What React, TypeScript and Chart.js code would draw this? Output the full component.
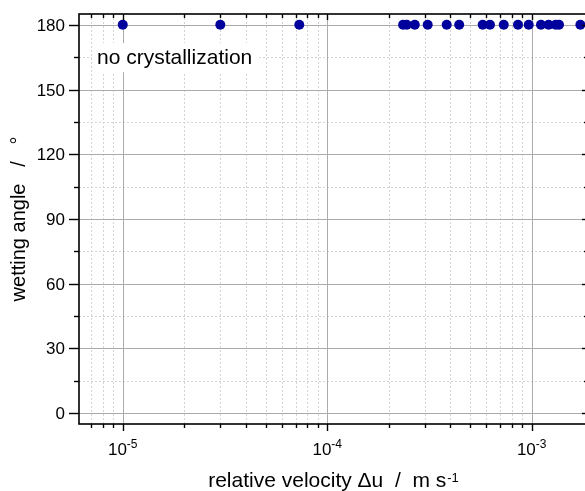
import React, { useEffect, useRef } from "react";
import { Chart, registerables } from "chart.js";

Chart.register(...registerables);

// ---- data ----
const velocity = [
  1.0e-5, 3.0e-5, 7.3e-5, 2.35e-4, 2.45e-4, 2.68e-4, 3.1e-4, 3.84e-4, 4.42e-4,
  5.76e-4, 6.25e-4, 7.3e-4, 8.57e-4, 9.67e-4, 1.11e-3, 1.21e-3, 1.31e-3,
  1.36e-3, 1.73e-3,
];
const wettingAngle = [
  180, 180, 180, 180, 180, 180, 180, 180, 180, 180, 180, 180, 180, 180, 180,
  180, 180, 180, 180,
];
const yMajorTicks = [0, 30, 60, 90, 120, 150, 180];
const yMinorTicks = [15, 45, 75, 105, 135, 165];
const xDecadeExponents = [-6, -5, -4, -3];
const xMinorMultipliers = [2, 3, 4, 5, 6, 7, 8, 9];
const xLabelExponents = [-5, -4, -3];
const xRange = [6.11e-6, 1.864e-3];
const yRange = [-5, 185];
const xTitle = "relative velocity \u0394u  /  m s";
const xTitleSup = "-1";
const yTitle = "wetting angle   /   \u00b0";
const annotation = "no crystallization";

const FONT = "'Liberation Sans', Arial, sans-serif";

const originPlugin = {
  id: "originStyle",
  beforeDatasetsDraw(chart: any) {
    const { ctx, chartArea: a, scales } = chart;
    const x = scales.x;
    const y = scales.y;
    ctx.save();
    ctx.beginPath();
    ctx.rect(a.left, a.top, a.right - a.left, a.bottom - a.top);
    ctx.clip();
    // minor grid (dotted)
    ctx.strokeStyle = "#d4d4d4";
    ctx.lineWidth = 1;
    ctx.setLineDash([2, 2]);
    for (const d of xDecadeExponents) {
      for (const m of xMinorMultipliers) {
        const v = m * Math.pow(10, d);
        if (v <= xRange[0] || v >= xRange[1]) continue;
        const px = Math.round(x.getPixelForValue(v)) + 0.5;
        ctx.beginPath();
        ctx.moveTo(px, a.top);
        ctx.lineTo(px, a.bottom);
        ctx.stroke();
      }
    }
    for (const v of yMinorTicks) {
      const py = Math.round(y.getPixelForValue(v)) + 0.5;
      ctx.beginPath();
      ctx.moveTo(a.left, py);
      ctx.lineTo(a.right, py);
      ctx.stroke();
    }
    // major grid (solid)
    ctx.setLineDash([]);
    ctx.strokeStyle = "#ababab";
    for (const e of xLabelExponents) {
      const px = Math.round(x.getPixelForValue(Math.pow(10, e))) + 0.5;
      ctx.beginPath();
      ctx.moveTo(px, a.top);
      ctx.lineTo(px, a.bottom);
      ctx.stroke();
    }
    for (const v of yMajorTicks) {
      const py = Math.round(y.getPixelForValue(v)) + 0.5;
      ctx.beginPath();
      ctx.moveTo(a.left, py);
      ctx.lineTo(a.right, py);
      ctx.stroke();
    }
    // annotation box + text
    ctx.font = `21px ${FONT}`;
    const tw = ctx.measureText(annotation).width;
    const tx = a.left + 18;
    const ty = y.getPixelForValue(165) + 7;
    ctx.fillStyle = "#ffffff";
    ctx.fillRect(tx - 5, ty - 21, tw + 10, 29);
    ctx.fillStyle = "#000000";
    ctx.textAlign = "left";
    ctx.textBaseline = "alphabetic";
    ctx.fillText(annotation, tx, ty);
    ctx.restore();
  },
  afterDatasetsDraw(chart: any) {
    const { ctx, chartArea: a, scales } = chart;
    const x = scales.x;
    const y = scales.y;
    ctx.save();
    ctx.strokeStyle = "#000000";
    ctx.lineWidth = 1.6;
    ctx.strokeRect(a.left, a.top, a.right - a.left, a.bottom - a.top);
    ctx.lineWidth = 1.4;
    const line = (x1: number, y1: number, x2: number, y2: number) => {
      ctx.beginPath();
      ctx.moveTo(x1, y1);
      ctx.lineTo(x2, y2);
      ctx.stroke();
    };
    // y ticks
    for (const v of yMajorTicks) {
      const py = Math.round(y.getPixelForValue(v)) + 0.5;
      line(a.left - 10, py, a.left, py);
      line(a.right - 5, py, a.right, py);
    }
    for (const v of yMinorTicks) {
      const py = Math.round(y.getPixelForValue(v)) + 0.5;
      line(a.left - 5, py, a.left, py);
      line(a.right - 3, py, a.right, py);
    }
    // x ticks
    for (const e of xLabelExponents) {
      const px = Math.round(x.getPixelForValue(Math.pow(10, e))) + 0.5;
      line(px, a.bottom, px, a.bottom + 7);
      line(px, a.top, px, a.top + 6);
    }
    for (const d of xDecadeExponents) {
      for (const m of xMinorMultipliers) {
        const v = m * Math.pow(10, d);
        if (v <= xRange[0] || v >= xRange[1]) continue;
        const px = Math.round(x.getPixelForValue(v)) + 0.5;
        line(px, a.bottom, px, a.bottom + 4);
        line(px, a.top, px, a.top + 4);
      }
    }
    // y tick labels
    ctx.fillStyle = "#000000";
    ctx.font = `17px ${FONT}`;
    ctx.textAlign = "right";
    ctx.textBaseline = "alphabetic";
    for (const v of yMajorTicks) {
      const py = y.getPixelForValue(v);
      ctx.fillText(String(v), a.left - 14, py + 6);
    }
    // x tick labels 10^n
    for (const e of xLabelExponents) {
      const px = x.getPixelForValue(Math.pow(10, e));
      ctx.font = `17px ${FONT}`;
      const w1 = ctx.measureText("10").width;
      ctx.font = `12px ${FONT}`;
      const sup = String(e);
      const w2 = ctx.measureText(sup).width;
      const start = px - (w1 + w2) / 2;
      ctx.textAlign = "left";
      ctx.font = `17px ${FONT}`;
      ctx.fillText("10", start, a.bottom + 31);
      ctx.font = `12px ${FONT}`;
      ctx.fillText(sup, start + w1, a.bottom + 24);
    }
    // x title
    {
      ctx.font = `21px ${FONT}`;
      const w1 = ctx.measureText(xTitle).width;
      ctx.font = `13px ${FONT}`;
      const w2 = ctx.measureText(xTitleSup).width;
      const cx = (a.left + a.right) / 2;
      const start = cx - (w1 + w2) / 2;
      ctx.textAlign = "left";
      ctx.font = `21px ${FONT}`;
      ctx.fillText(xTitle, start, a.bottom + 63);
      ctx.font = `13px ${FONT}`;
      ctx.fillText(xTitleSup, start + w1 + 1, a.bottom + 58);
    }
    // y title
    ctx.save();
    ctx.translate(25, (a.top + a.bottom) / 2);
    ctx.rotate(-Math.PI / 2);
    ctx.font = `20px ${FONT}`;
    ctx.textAlign = "center";
    ctx.fillText(yTitle, 0, 0);
    ctx.restore();
    ctx.restore();
  },
};

export default function App() {
  const canvasRef = useRef<HTMLCanvasElement | null>(null);

  useEffect(() => {
    const canvas = canvasRef.current;
    if (!canvas) return;
    const chart = new Chart(canvas, {
      type: "scatter",
      data: {
        datasets: [
          {
            data: velocity.map((v, i) => ({ x: v, y: wettingAngle[i] })),
            pointRadius: 5,
            pointHoverRadius: 5,
            backgroundColor: "#00009c",
            borderColor: "#00009c",
            borderWidth: 0,
          },
        ],
      },
      options: {
        animation: false,
        responsive: false,
        devicePixelRatio: 1,
        layout: { padding: { left: 0, top: 14, right: 13, bottom: 0 } },
        plugins: {
          legend: { display: false },
          tooltip: { enabled: false },
        },
        scales: {
          x: {
            type: "logarithmic",
            min: xRange[0],
            max: xRange[1],
            ticks: { display: false },
            grid: { display: false },
            border: { display: false },
            afterFit: (s: any) => {
              s.height = 67;
            },
          },
          y: {
            type: "linear",
            min: yRange[0],
            max: yRange[1],
            ticks: { display: false },
            grid: { display: false },
            border: { display: false },
            afterFit: (s: any) => {
              s.width = 79;
            },
          },
        },
      },
      plugins: [originPlugin],
    });
    return () => chart.destroy();
  }, []);

  return (
    <div
      style={{
        position: "fixed",
        left: 0,
        top: 0,
        width: 585,
        height: 491,
        overflow: "hidden",
        background: "#ffffff",
      }}
    >
      <canvas
        ref={canvasRef}
        width={600}
        height={491}
        style={{ width: 600, height: 491, display: "block" }}
      />
    </div>
  );
}
